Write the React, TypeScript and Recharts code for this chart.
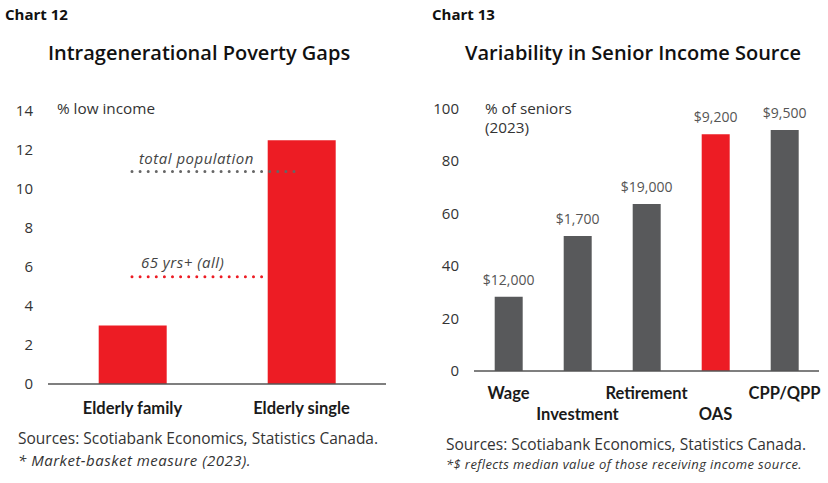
import React from "react";
import { BarChart, Bar, XAxis, YAxis, ReferenceLine, LabelList, Cell } from "recharts";

const RED = "#ED1C24";
const GREY = "#58595B";
const FONT = "'Open Sans', 'Noto Sans', sans-serif";
const BOLD_FONT = "Lato, 'Open Sans', sans-serif";

// Chart 12: poverty rates
const povertyGroups = ["Elderly family", "Elderly single"];
const povertyRates = [3.0, 12.5];
const povertyTicks = [0, 2, 4, 6, 8, 10, 12, 14];
const totalPopulationRate = 10.9;
const seniorsAllRate = 5.5;

// Chart 13: income sources
const incomeSources = ["Wage", "Investment", "Retirement", "OAS", "CPP/QPP"];
const seniorShares = [28.3, 51.4, 63.6, 90.2, 91.8];
const medianLabels = ["$12,000", "$1,700", "$19,000", "$9,200", "$9,500"];
const shareTicks = [0, 20, 40, 60, 80, 100];

const povertyData = povertyGroups.map((group, i) => ({ group, rate: povertyRates[i] }));
const incomeData = incomeSources.map((source, i) => ({
  source,
  share: seniorShares[i],
  median: medianLabels[i],
}));

// dotted reference line covering only part of the plot, with an italic caption above it
const partialLine = (from: number, to: number, color: string, caption: string, captionFrom: number, captionGap: number) =>
  (props: any) => {
    const { x1, x2, y1 } = props;
    const w = x2 - x1;
    return (
      <g>
        <line
          x1={x1 + w * from}
          x2={x1 + w * to}
          y1={y1}
          y2={y1}
          stroke={color}
          strokeWidth={3}
          strokeLinecap="round"
          strokeDasharray="0 8.1"
        />
        <text
          x={x1 + w * captionFrom}
          y={y1 - captionGap}
          fontFamily={FONT}
          fontStyle="italic"
          fontSize={15}
          letterSpacing={0.5}
          fill="#444"
        >
          {caption}
        </text>
      </g>
    );
  };

const PovertyTick = (props: any) => {
  const { x, y, payload } = props;
  return (
    <text x={x} y={y + 28} textAnchor="middle" fontFamily={BOLD_FONT} fontWeight={700} fontSize={16.5} fill="#1a1a1a">
      {payload.value}
    </text>
  );
};

const SourceTick = (props: any) => {
  const { x, y, payload, index } = props;
  return (
    <text
      x={x}
      y={y + (index % 2 === 1 ? 47 : 26)}
      textAnchor="middle"
      fontFamily={BOLD_FONT}
      fontWeight={700}
      fontSize={16.5}
      fill="#1a1a1a"
    >
      {payload.value}
    </text>
  );
};

const yTick = { fontFamily: FONT, fontSize: 15, fill: "#333" };

const textStyle = (extra: React.CSSProperties): React.CSSProperties => ({
  position: "absolute",
  fontFamily: FONT,
  whiteSpace: "nowrap",
  lineHeight: 1,
  ...extra,
});

export default function App() {
  return (
    <div style={{ position: "absolute", left: 0, top: 0, width: 828, height: 483, background: "#fff", overflow: "hidden" }}>
      {/* left panel */}
      <div style={{ position: "absolute", left: 0, top: 0, width: 414, height: 483 }}>
        <BarChart width={414} height={483} data={povertyData} margin={{ top: 111, right: 28, bottom: 69, left: 0 }} barCategoryGap="30%">
          <XAxis
            dataKey="group"
            axisLine={{ stroke: "#555", strokeWidth: 1.5 }}
            tickLine={false}
            tickSize={0}
            tick={<PovertyTick />}
            interval={0}
            height={30}
          />
          <YAxis
            domain={[0, 14]}
            ticks={povertyTicks}
            axisLine={false}
            tickLine={false}
            tickSize={0}
            tickMargin={15}
            width={48}
            tick={yTick}
          />
          <Bar dataKey="rate" fill={RED} isAnimationActive={false} />
          <ReferenceLine
            y={seniorsAllRate}
            ifOverflow="visible"
            shape={partialLine(0.2485, 0.636, RED, "65 yrs+ (all)", 0.275, 9)}
          />
          <ReferenceLine
            y={totalPopulationRate}
            ifOverflow="visible"
            shape={partialLine(0.2485, 0.7337, "#666", "total population", 0.269, 7)}
          />
        </BarChart>
        <div style={textStyle({ left: 5, top: 7, fontSize: 15, fontWeight: 700, color: "#111" })}>Chart 12</div>
        <div style={textStyle({ left: 0, width: 398, top: 43, textAlign: "center", fontSize: 20, fontWeight: 600, color: "#111" })}>
          Intragenerational Poverty Gaps
        </div>
        <div style={textStyle({ left: 57, top: 101, fontSize: 15.3, color: "#333" })}>% low income</div>
        <div style={textStyle({ left: 18, top: 431, fontSize: 15.5, color: "#333" })}>
          Sources: Scotiabank Economics, Statistics Canada.
        </div>
        <div style={textStyle({ left: 18, top: 453, fontSize: 15, letterSpacing: 0.5, fontStyle: "italic", color: "#333" })}>
          * Market-basket measure (2023).
        </div>
      </div>

      {/* right panel */}
      <div style={{ position: "absolute", left: 414, top: 0, width: 414, height: 483 }}>
        <BarChart width={414} height={483} data={incomeData} margin={{ top: 108.5, right: 9, bottom: 82, left: 0 }} barCategoryGap="30%">
          <XAxis
            dataKey="source"
            axisLine={{ stroke: "#555", strokeWidth: 1.5 }}
            tickLine={false}
            tickSize={0}
            tick={<SourceTick />}
            interval={0}
            height={30}
          />
          <YAxis
            domain={[0, 100]}
            ticks={shareTicks}
            axisLine={false}
            tickLine={false}
            tickSize={0}
            tickMargin={15}
            width={60}
            tick={yTick}
          />
          <Bar dataKey="share" isAnimationActive={false}>
            {incomeData.map((d) => (
              <Cell key={d.source} fill={d.source === "OAS" ? RED : GREY} />
            ))}
            <LabelList dataKey="median" position="top" offset={12} fontFamily={FONT} fontSize={14} fill="#555" />
          </Bar>
        </BarChart>
        <div style={textStyle({ left: 18, top: 7, fontSize: 15, fontWeight: 700, color: "#111" })}>Chart 13</div>
        <div style={textStyle({ left: 30, width: 378, top: 43, textAlign: "center", fontSize: 20, fontWeight: 600, color: "#111" })}>
          Variability in Senior Income Source
        </div>
        <div style={textStyle({ left: 71, top: 99, fontSize: 15.3, color: "#333", lineHeight: "19px", whiteSpace: "pre" })}>
          {"% of seniors\n(2023)"}
        </div>
        <div style={textStyle({ left: 32, top: 437, fontSize: 15.5, color: "#333" })}>
          Sources: Scotiabank Economics, Statistics Canada.
        </div>
        <div style={textStyle({ left: 32, top: 458, fontSize: 13, letterSpacing: 0.4, fontStyle: "italic", color: "#333" })}>
          *$ reflects median value of those receiving income source.
        </div>
      </div>
    </div>
  );
}
